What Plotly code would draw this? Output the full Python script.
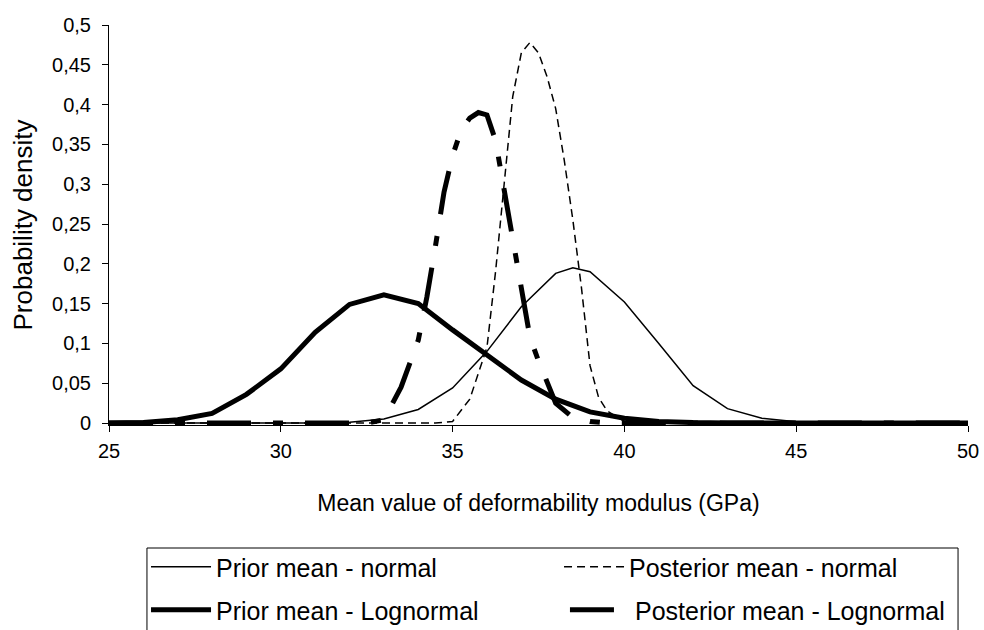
import plotly.graph_objects as go

# ---- data ----
prior_normal_x = [25, 31, 32, 33, 34, 35, 36, 37, 38, 38.5, 39, 40, 41, 42, 43, 44, 45, 46, 50]
prior_normal_y = [0, 0, 0.001, 0.005, 0.017, 0.044, 0.090, 0.146, 0.188, 0.195, 0.190, 0.152, 0.100, 0.047, 0.018, 0.006, 0.0015, 0, 0]

post_normal_x = [25, 34.5, 35, 35.5, 36, 36.25, 36.5, 36.75, 37, 37.25, 37.5, 37.75, 38, 38.25, 38.5, 38.75, 39, 39.25, 39.5, 40, 40.5, 50]
post_normal_y = [0, 0, 0.002, 0.030, 0.095, 0.190, 0.300, 0.410, 0.465, 0.478, 0.465, 0.435, 0.395, 0.330, 0.255, 0.170, 0.072, 0.032, 0.015, 0.002, 0, 0]

prior_logn_x = [25, 26, 27, 28, 29, 30, 31, 32, 33, 34, 35, 36, 37, 38, 39, 40, 41, 42, 43, 50]
prior_logn_y = [0, 0.0005, 0.004, 0.012, 0.036, 0.068, 0.114, 0.149, 0.161, 0.150, 0.117, 0.086, 0.054, 0.030, 0.014, 0.006, 0.002, 0.0005, 0, 0]

post_logn_x = [25, 32.5, 33, 33.5, 34, 34.25, 34.5, 34.75, 35, 35.25, 35.5, 35.75, 36, 36.25, 36.5, 36.75, 37, 37.25, 37.5, 38, 38.5, 39, 39.5, 50]
post_logn_y = [0, 0, 0.004, 0.045, 0.104, 0.158, 0.222, 0.290, 0.336, 0.368, 0.383, 0.390, 0.387, 0.355, 0.293, 0.230, 0.165, 0.108, 0.078, 0.025, 0.007, 0.002, 0, 0]

names = ["Prior mean - normal", "Posterior mean - normal",
         "Prior mean - Lognormal", "Posterior mean - Lognormal"]

x_ticks = [25, 30, 35, 40, 45, 50]
y_ticks = [0, 0.05, 0.1, 0.15, 0.2, 0.25, 0.3, 0.35, 0.4, 0.45, 0.5]

FONT = "Liberation Sans, Arial, sans-serif"

fig = go.Figure()
fig.add_trace(go.Scatter(x=prior_normal_x, y=prior_normal_y, mode="lines", name=names[0],
                         line=dict(color="black", width=1.5), legend="legend"))
fig.add_trace(go.Scatter(x=post_normal_x, y=post_normal_y, mode="lines", name=names[1],
                         line=dict(color="black", width=1.5, dash="8px,5px"), legend="legend2"))
fig.add_trace(go.Scatter(x=prior_logn_x, y=prior_logn_y, mode="lines", name=names[2],
                         line=dict(color="black", width=5), legend="legend3"))
fig.add_trace(go.Scatter(x=post_logn_x, y=post_logn_y, mode="lines", name=names[3],
                         line=dict(color="black", width=5, dash="44px,22px,10px,22px"), legend="legend4"))


def leg(x, y):
    return dict(orientation="h", xanchor="left", yanchor="middle", x=x, y=y,
                bgcolor="rgba(0,0,0,0)", borderwidth=0,
                font=dict(family=FONT, size=25, color="black"),
                itemwidth=60, itemclick=False, itemdoubleclick=False)


fig.update_layout(
    width=984, height=630,
    margin=dict(l=109, r=16, t=25, b=205, autoexpand=False),
    paper_bgcolor="white", plot_bgcolor="white",
    separators=",.",
    font=dict(family=FONT, color="black"),
    showlegend=True,
    legend=leg(0.0431, -0.355),
    legend2=leg(0.5239, -0.355),
    legend3=leg(0.0431, -0.4625),
    legend4=leg(0.5308, -0.4625),
    xaxis=dict(range=[25, 50], tickvals=x_ticks, showgrid=False, zeroline=False,
               showline=True, linecolor="black", linewidth=1,
               ticks="outside", ticklen=6, tickcolor="black", ticklabelstandoff=2,
               tickfont=dict(family=FONT, size=20, color="black"),
               title=dict(text="Mean value of deformability modulus (GPa)",
                          font=dict(family=FONT, size=23, color="black"), standoff=33),
               automargin=False),
    yaxis=dict(range=[-0.0025, 0.5], tickvals=y_ticks, showgrid=False, zeroline=False,
               showline=True, linecolor="black", linewidth=1,
               ticks="outside", ticklen=6, tickcolor="black", ticklabelstandoff=7,
               tickfont=dict(family=FONT, size=20, color="black"),
               title=dict(text="Probability density",
                          font=dict(family=FONT, size=26, color="black"), standoff=11),
               automargin=False),
    shapes=[dict(type="rect", xref="paper", yref="paper",
                 x0=0.0442, x1=0.9884, y0=-0.5375, y1=-0.3075,
                 line=dict(color="black", width=1), fillcolor="rgba(0,0,0,0)")],
)

fig.write_html("out.html", config={"displayModeBar": False},
               post_script="document.body.style.margin='0';")
